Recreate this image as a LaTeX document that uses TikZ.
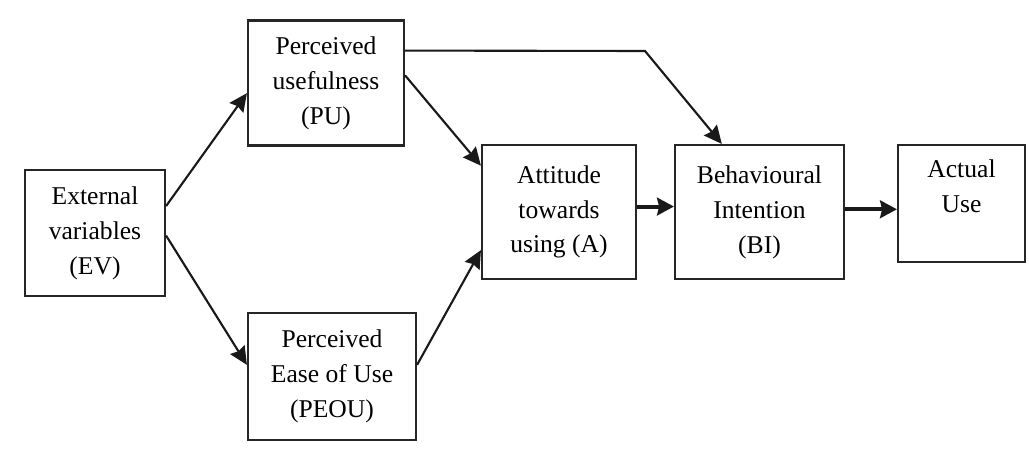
\documentclass[tikz,border=0pt]{standalone}
\usepackage{fontspec}
\setmainfont{Liberation Serif}
\newfontfamily\boxfont{Liberation Serif}
\usepackage{tikz}
\usetikzlibrary{arrows.meta, positioning, calc}

\tikzset{
  box/.style={draw=black!85, line width=1.5pt, align=center, inner sep=0pt,
    font=\boxfont\fontsize{18.2pt}{24.8pt}\selectfont},
  link/.style={draw=black!90, line width=1.5pt,
    -{Stealth[length=0.45cm, width=0.42cm, inset=0.05cm]}},
  thicklink/.style={draw=black!90, line width=2.8pt,
    -{Stealth[length=0.42cm, width=0.44cm, inset=0.05cm]}}
}

\begin{document}
\begin{tikzpicture}[x=0.025cm, y=-0.025cm]
  \useasboundingbox (0,0) rectangle (1029,451);

  % Constructs
  \node[box, minimum width=3.5cm, minimum height=3.15cm] (ev) at (95,233)
    {External\\variables\\(EV)};
  \node[box, minimum width=3.9cm, minimum height=3.125cm] (pu) at (326,83)
    {Perceived\\usefulness\\(PU)};
  \node[box, minimum width=4.2cm, minimum height=3.175cm] (peou) at (332,376.5)
    {Perceived\\Ease of Use\\(PEOU)};
  \node[box, minimum width=3.85cm, minimum height=3.35cm] (att) at (559,212)
    {Attitude\\towards\\using (A)};
  \node[box, minimum width=4.225cm, minimum height=3.35cm] (bi) at (759.5,212)
    {Behavioural\\Intention\\(BI)};
  \node[box, minimum width=3.175cm, minimum height=2.925cm] (use) at (961.5,203.5)
    {Actual\\Use\\\mbox{}};

  % External variables to beliefs
  \draw[link] ($(ev.north east)!.29!(ev.south east)$)
    -- ($(pu.north west)!.58!(pu.south west)$);
  \draw[link] ($(ev.north east)!.52!(ev.south east)$)
    -- ($(peou.north west)!.41!(peou.south west)$);

  % Beliefs to attitude
  \draw[link] ($(pu.north east)!.44!(pu.south east)$)
    -- ($(att.north west)!.16!(att.south west)$);
  \draw[link] ($(peou.north east)!.41!(peou.south east)$)
    -- ($(att.north west)!.78!(att.south west)$);

  % Usefulness straight to intention
  \coordinate (puout) at ($(pu.north east)!.245!(pu.south east)$);
  \coordinate (kink) at (645,51);
  \draw[link] (puout) -- (kink)
    -- ($(bi.north west)!.28!(bi.north east)$);

  % Attitude -> intention -> use
  \coordinate (attout) at ($(att.north east)!.46!(att.south east)$);
  \draw[thicklink] (attout) -- (attout -| bi.west);
  \coordinate (biout) at ($(bi.north east)!.48!(bi.south east)$);
  \draw[thicklink] (biout) -- (biout -| use.west);
\end{tikzpicture}
\end{document}
